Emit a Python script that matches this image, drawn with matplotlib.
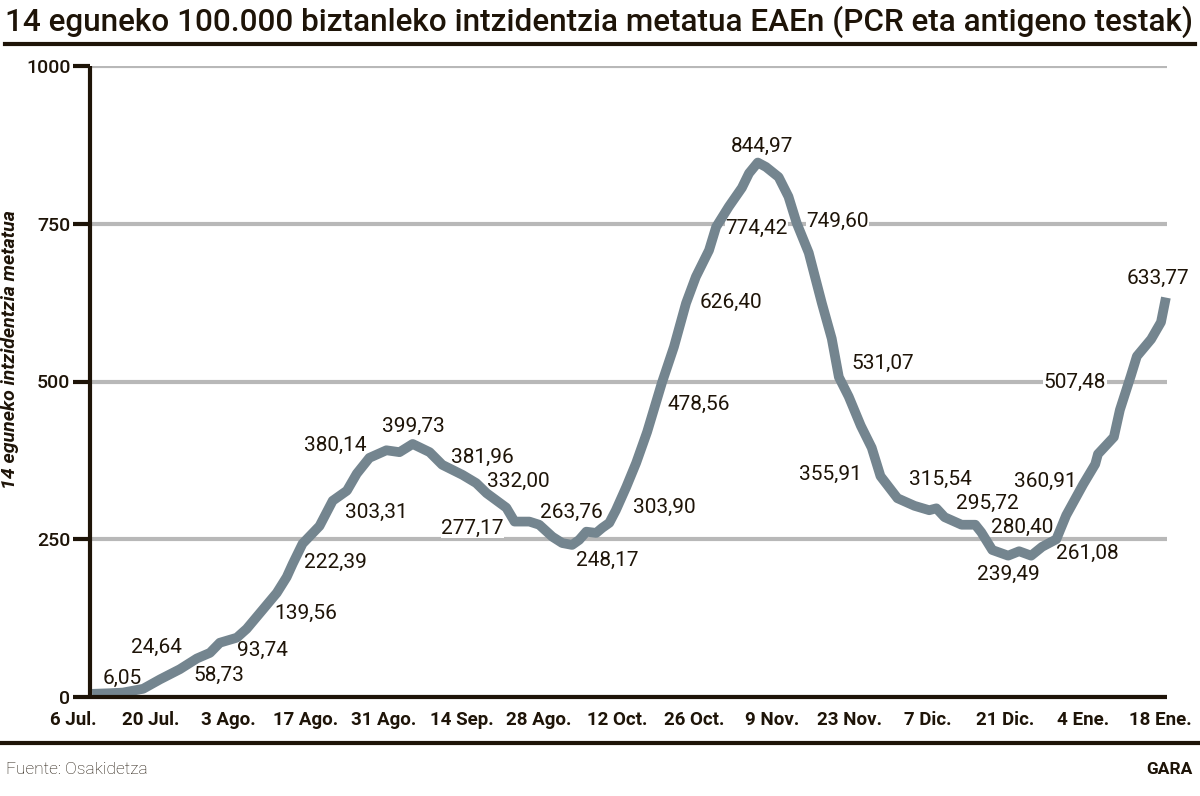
import numpy as np
import matplotlib
matplotlib.use("Agg")
import matplotlib.pyplot as plt
from matplotlib.lines import Line2D

# egunak (6 Jul. = 0) eta intzidentzia, irudiaren gainean irakurrita
dias = [0, 3.3, 5.6, 9.3, 12.4, 16.0, 19.1, 21.5, 23.3, 26.4, 28.2, 31.0, 33.7,
        35.5, 36.6, 38.4, 41.5, 43.9, 46.5, 48.3, 50.6, 53.7, 56.1, 58.5, 61.6,
        63.9, 67.6, 70.1, 72.0, 75.6, 77.1, 79.8, 81.6, 84.0, 85.8, 87.6, 88.9,
        90.2, 92.0, 93.1, 94.4, 95.6, 97.5, 99.3, 101.3, 104.0, 106.2, 108.4,
        110.2, 112.6, 113.9, 116.2, 118.6, 119.9, 121.5, 123.0, 125.3, 127.1,
        128.6, 130.8, 133.2, 135.0, 136.3, 138.1, 140.3, 142.3, 143.9, 147.0,
        150.1, 152.8, 154.1, 155.6, 158.7, 161.2, 162.3, 164.3, 167.2, 169.2,
        171.4, 173.4, 176.0, 177.8, 180.9, 183.1, 183.6, 186.5, 187.6, 189.6,
        190.7, 193.3, 195.1, 196.0]
intzidentzia = [5, 6, 7, 13, 28, 44, 61, 70, 86, 94, 108, 137, 165,
                190, 211, 243, 271, 311, 327, 354, 379, 391, 388, 401, 388,
                368, 352, 339, 323, 300, 278, 278, 273, 254, 244, 241, 249,
                262, 260, 268, 276, 296, 333, 371, 420, 498, 555, 624,
                666, 708, 745, 777, 807, 830, 847, 840, 824, 793,
                751, 704, 624, 568, 507, 476, 430, 395, 350, 315,
                303, 296, 299, 285, 273, 273, 261, 233, 224, 231,
                224, 238, 250, 288, 337, 369, 385, 412, 455, 509,
                540, 567, 594, 633]

etiketak = ["6,05", "24,64", "58,73", "93,74", "139,56", "222,39", "303,31",
            "380,14", "399,73", "381,96", "332,00", "277,17", "263,76", "248,17",
            "303,90", "478,56", "626,40", "774,42", "844,97", "749,60", "531,07",
            "355,91", "315,54", "295,72", "280,40", "360,91", "239,49", "261,08",
            "507,48", "633,77"]
# etiketen kokapena (eguna, balioa)
etiketa_pos = [(5.5, 30), (11.8, 78), (23.1, 35), (31.0, 74), (39.0, 133),
               (44.4, 214), (51.9, 293), (44.4, 399), (58.7, 429), (71.2, 380),
               (77.8, 341), (69.4, 268), (87.4, 293), (94.0, 217), (104.4, 301),
               (110.8, 463), (116.6, 626), (121.3, 743), (122.2, 872), (136.1, 753),
               (144.3, 528), (134.8, 353), (154.8, 345), (163.4, 307), (169.8, 269),
               (174.0, 342), (167.2, 195), (181.6, 227), (179.4, 498), (194.5, 664)]

x_etiketak = ["6 Jul.", "20 Jul.", "3 Ago.", "17 Ago.", "31 Ago.", "14 Sep.",
              "28 Ago.", "12 Oct.", "26 Oct.", "9 Nov.", "23 Nov.", "7 Dic.",
              "21 Dic.", "4 Ene.", "18 Ene."]
y_ticks = [0, 250, 500, 750, 1000]

ink = "#1e1408"
line_col = "#74858f"
grid_col = "#b8b8b8"

plt.rcParams['font.family'] = ['Roboto', 'DejaVu Sans']

fig = plt.figure(figsize=(12, 7.96), dpi=100)
ax = fig.add_axes([90/1200, 1-697/796, (1167-90)/1200, (697-66)/796])

ax.set_yticks(y_ticks)
ax.set_yticklabels([str(v) for v in y_ticks], fontsize=14, color=ink, fontweight='medium')
ax.yaxis.grid(True, color=grid_col, linewidth=3, zorder=0)
ax.set_axisbelow(True)
ax.tick_params(axis='y', length=12, width=3, color=ink, pad=2)

ax.set_xticks([])
ax.set_xlim(-0.4, 196.2)
ax.set_ylim(0, 1000)

# data-etiketak ardatzaren azpian (lehenengoa ardatzetik kanpo dago)
for lbl, xd in zip(x_etiketak, np.linspace(-3.5, 195, len(x_etiketak))):
    ax.text(xd, -0.022, lbl, transform=ax.get_xaxis_transform(), fontsize=13.5,
            fontweight='bold', color=ink, ha='center', va='top', clip_on=False)

for s in ['top', 'right']:
    ax.spines[s].set_visible(False)
for s in ['left', 'bottom']:
    ax.spines[s].set_linewidth(3)
    ax.spines[s].set_color(ink)
    ax.spines[s].set_capstyle('butt')
    ax.spines[s].set_zorder(5)

ax.plot(dias, intzidentzia, color=line_col, linewidth=7, solid_capstyle='butt',
        solid_joinstyle='round', zorder=4, clip_on=False)

# etiketak: zuri atzealdea sareta-lerroak mozteko, baina kurbaren azpian
for txt, (dx, dy) in zip(etiketak, etiketa_pos):
    ax.text(dx, dy, txt, fontsize=15, fontweight='normal', color=ink,
            ha='center', va='center', zorder=3,
            bbox=dict(facecolor='white', edgecolor='none', pad=0.3))

ax.set_ylabel("14 eguneko intzidentzia metatua", fontsize=14, fontweight='bold',
              fontstyle='italic', color=ink)
ax.yaxis.set_label_coords(-0.066, 0.55)

# izenburua
title = fig.text(5/1200, 1-22/796, "14 eguneko 100.000 biztanleko intzidentzia metatua EAEn (PCR eta antigeno testak)",
                 fontsize=24, fontweight='medium', color=ink, ha='left', va='center')
fig.canvas.draw()
w = title.get_window_extent().width
title.set_fontsize(24 * 1190 / w)

fig.add_artist(Line2D([5/1200, 1195/1200], [1-44/796, 1-44/796], color=ink, linewidth=3))
fig.add_artist(Line2D([0, 1], [1-743/796, 1-743/796], color=ink, linewidth=3))

fig.text(6/1200, 1-769/796, "Fuente: Osakidetza", fontsize=12.5, fontweight='light',
         color=ink, ha='left', va='center')
fig.text(1193/1200, 1-770/796, "GARA", fontsize=12.5, fontweight='bold',
         color=ink, ha='right', va='center')

fig.savefig("out.png", dpi=100, facecolor='white')
